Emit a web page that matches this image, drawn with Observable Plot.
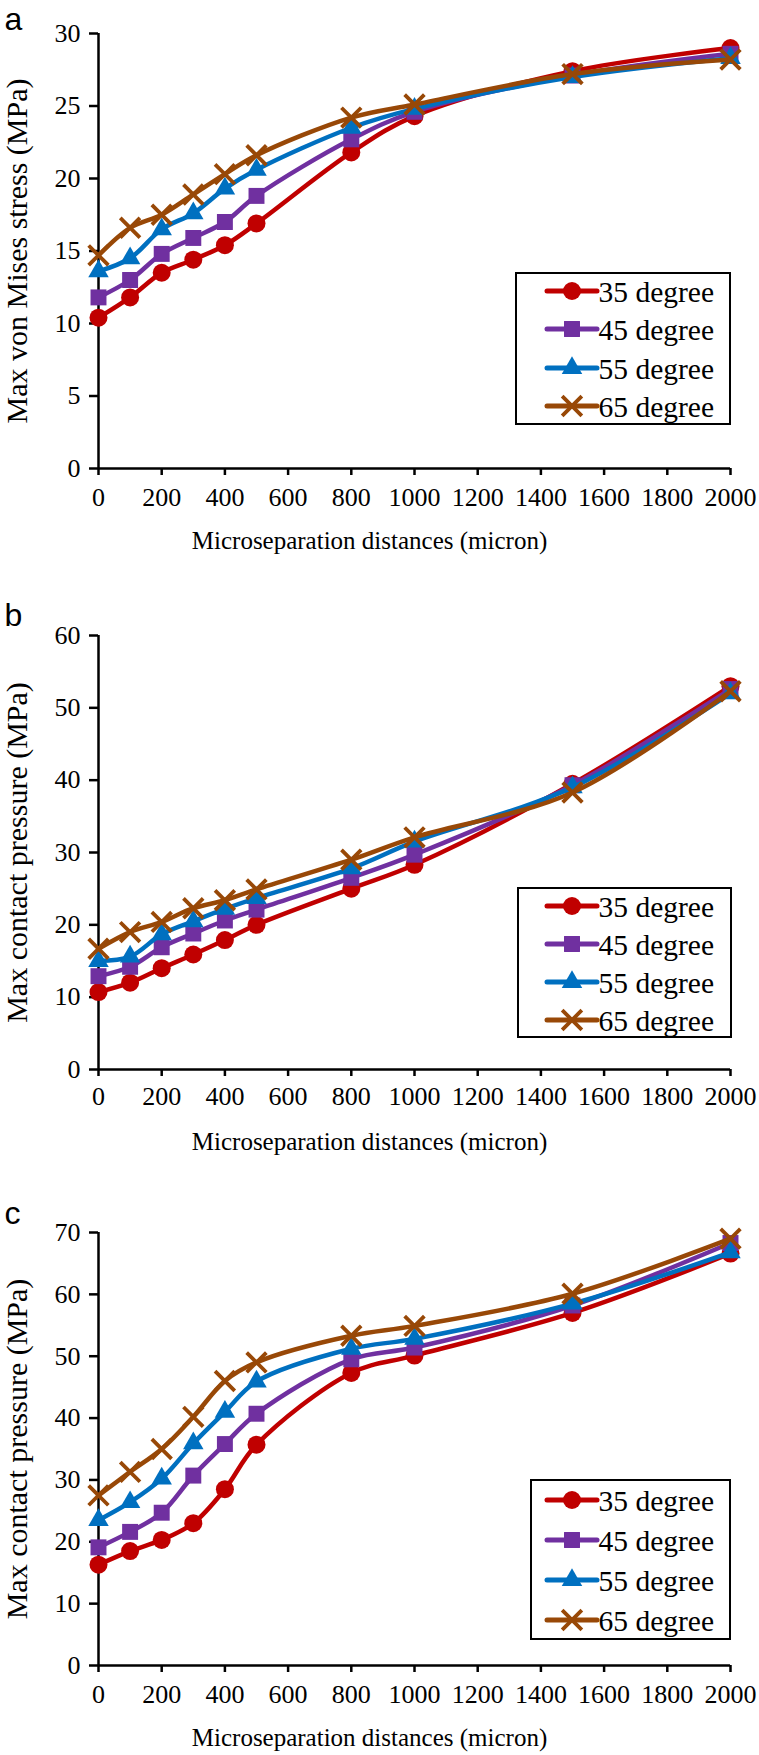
<!DOCTYPE html>
<html>
<head>
<meta charset="utf-8">
<script src="https://cdn.jsdelivr.net/npm/d3@7"></script>
<script src="https://cdn.jsdelivr.net/npm/@observablehq/plot@0.6"></script>
<style>
  body { margin: 0; background: #fff; }
  .panel { position: relative; width: 759px; }
  .legend { position: absolute; border: 2.5px solid #000; box-sizing: border-box; background: #fff;
            font-family: "Liberation Serif", "Times New Roman", serif; font-size: 29.5px; color: #000; }
</style>
</head>
<body>
<div id="chart"></div>
<script>
// ---- data ----
const distances = [0, 100, 200, 300, 400, 500, 800, 1000, 1500, 2000];
const xTicks = [0, 200, 400, 600, 800, 1000, 1200, 1400, 1600, 1800, 2000];
const series = ["35 degree", "45 degree", "55 degree", "65 degree"];
const colors = ["#C00000", "#7030A0", "#0070C0", "#984807"];
const symbols = ["circle", "square", "triangle", "times"];

// panel a: max von Mises stress (MPa)
const vonMises35 = [10.4, 11.8, 13.5, 14.4, 15.4, 16.9, 21.8, 24.3, 27.4, 29.0];
const vonMises45 = [11.8, 13.0, 14.8, 15.9, 17.0, 18.8, 22.7, 24.6, 27.1, 28.6];
const vonMises55 = [13.6, 14.5, 16.5, 17.6, 19.3, 20.6, 23.5, 24.8, 27.0, 28.3];
const vonMises65 = [14.7, 16.6, 17.5, 18.9, 20.3, 21.6, 24.2, 25.1, 27.2, 28.2];
const yTicksA = [0, 5, 10, 15, 20, 25, 30];

// panel b: max contact pressure (MPa)
const pressureB35 = [10.7, 12.0, 14.0, 15.9, 17.9, 20.0, 25.0, 28.3, 39.5, 53.0];
const pressureB45 = [12.9, 14.2, 16.9, 18.8, 20.6, 22.1, 26.5, 29.7, 39.3, 52.6];
const pressureB55 = [15.0, 15.6, 18.7, 20.5, 22.2, 23.7, 27.8, 31.5, 39.0, 52.0];
const pressureB65 = [16.7, 19.0, 20.4, 22.3, 23.4, 24.9, 29.0, 32.1, 38.3, 52.3];
const yTicksB = [0, 10, 20, 30, 40, 50, 60];

// panel c: max contact pressure (MPa)
const pressureC35 = [16.3, 18.5, 20.3, 23.0, 28.5, 35.7, 47.3, 50.1, 57.0, 66.6];
const pressureC45 = [19.1, 21.6, 24.7, 30.7, 35.8, 40.7, 49.5, 51.4, 58.2, 68.3];
const pressureC55 = [23.5, 26.4, 30.2, 35.9, 41.0, 45.9, 51.2, 52.8, 58.5, 66.8];
const pressureC65 = [27.5, 31.3, 35.0, 40.2, 46.0, 49.0, 53.3, 54.9, 60.1, 69.0];
const yTicksC = [0, 10, 20, 30, 40, 50, 60, 70];

const xTitle = "Microseparation distances (micron)";

// ---- layout/style ----
const serif = "'Liberation Serif', 'Times New Roman', serif";
const sans = "'Liberation Sans', Arial, sans-serif";
const dotR = [9, 9, 7.6, 9];
const letterSize = 32;

const panels = [
  { letter: "a", values: [vonMises35, vonMises45, vonMises55, vonMises65], yTicks: yTicksA,
    yLabel: "Max von Mises stress (MPa)", height: 580, marginTop: 33, marginBottom: 112,
    letterY: 29, tickPad: 12,
    legend: { left: 515, top: 272, width: 216, height: 153, pad: 30, first: 19, gap: 38.5 } },
  { letter: "b", values: [pressureB35, pressureB45, pressureB55, pressureB65], yTicks: yTicksB,
    yLabel: "Max contact pressure (MPa)", height: 595, marginTop: 55, marginBottom: 106,
    letterY: 45, tickPad: 10,
    legend: { left: 517, top: 307, width: 215, height: 151, pad: 28, first: 19, gap: 38 } },
  { letter: "c", values: [pressureC35, pressureC45, pressureC55, pressureC65], yTicks: yTicksC,
    yLabel: "Max contact pressure (MPa)", height: 580, marginTop: 57, marginBottom: 90,
    letterY: 48, tickPad: 12,
    legend: { left: 530, top: 304, width: 201, height: 161, pad: 15, first: 21, gap: 40 } }
];

function buildPlot(cfg) {
  const rows = [];
  cfg.values.forEach((vals, i) => vals.forEach((v, j) => rows.push({ x: distances[j], y: v, s: series[i] })));
  const fmt = d => String(d);
  const marks = [];
  marks.push(Plot.axisY({ ticks: cfg.yTicks, tickFormat: fmt, tickSize: 9, tickPadding: 9, strokeWidth: 2.5,
    label: null, fontSize: 26, fontFamily: serif }));
  marks.push(Plot.axisX({ ticks: xTicks, tickFormat: fmt, tickSize: 7, tickPadding: cfg.tickPad, strokeWidth: 2.5,
    label: null, fontSize: 26, fontFamily: serif }));
  marks.push(Plot.ruleX([0], { strokeWidth: 2.5, stroke: "#000" }));
  marks.push(Plot.ruleY([0], { strokeWidth: 2.5, stroke: "#000" }));
  series.forEach((s, i) => {
    const d = rows.filter(r => r.s === s);
    marks.push(Plot.line(d, { x: "x", y: "y", stroke: colors[i], strokeWidth: 4.5, curve: "catmull-rom" }));
    if (symbols[i] === "times") {
      marks.push(Plot.dot(d, { x: "x", y: "y", symbol: "times", r: dotR[i], stroke: colors[i], strokeWidth: 3.8 }));
    } else {
      marks.push(Plot.dot(d, { x: "x", y: "y", symbol: symbols[i], r: dotR[i], fill: colors[i], stroke: "none" }));
    }
  });
  marks.push(Plot.text([cfg.yLabel], { text: d => d, frameAnchor: "left", dx: -81, rotate: -90,
    fontSize: 30, fontFamily: serif, textAnchor: "middle", lineAnchor: "middle" }));
  marks.push(Plot.text([xTitle], { text: d => d, frameAnchor: "bottom", dx: -45, dy: 72,
    fontSize: 25, fontFamily: serif, textAnchor: "middle", lineAnchor: "middle" }));
  marks.push(Plot.text([cfg.letter], { text: d => d, frameAnchor: "top-left", dx: -94,
    dy: cfg.letterY - 0.32 * letterSize - cfg.marginTop, textAnchor: "start", lineAnchor: "middle",
    fontSize: letterSize, fontFamily: sans }));

  return Plot.plot({
    width: 759,
    height: cfg.height,
    marginLeft: 98,
    marginRight: 29,
    marginTop: cfg.marginTop,
    marginBottom: cfg.marginBottom,
    x: { domain: [0, 2000] },
    y: { domain: [0, d3.max(cfg.yTicks)] },
    style: { fontFamily: serif, fontSize: "25px", color: "#000", background: "#fff", overflow: "visible" },
    marks
  });
}

function buildLegend(L) {
  const box = document.createElement("div");
  box.className = "legend";
  Object.assign(box.style, { left: L.left + "px", top: L.top + "px", width: L.width + "px", height: L.height + "px" });
  const symMap = { circle: d3.symbolCircle, square: d3.symbolSquare, triangle: d3.symbolTriangle, times: d3.symbolTimes };
  series.forEach((s, i) => {
    const cy = L.first + i * L.gap;
    const row = document.createElement("div");
    row.style.cssText = `position:absolute;left:${L.pad - 2.5}px;top:${cy - 20 - 2.5}px;height:40px;display:flex;align-items:center;white-space:nowrap;`;
    const path = d3.symbol(symMap[symbols[i]], Math.PI * dotR[i] * dotR[i])();
    const filled = symbols[i] !== "times";
    const markerAttr = filled ? `fill="${colors[i]}"` : `fill="none" stroke="${colors[i]}" stroke-width="3.8"`;
    row.innerHTML = `<svg width="54" height="40" viewBox="-27 -20 54 40" style="overflow:visible;display:block">` +
      `<line x1="-25" x2="25" y1="0" y2="0" stroke="${colors[i]}" stroke-width="5" stroke-linecap="round"/>` +
      `<path d="${path}" ${markerAttr}/></svg>` +
      `<span style="margin-left:0px;line-height:40px;position:relative;top:1px">${s}</span>`;
    box.appendChild(row);
  });
  return box;
}

const root = document.getElementById("chart");
panels.forEach(cfg => {
  const wrap = document.createElement("div");
  wrap.className = "panel";
  wrap.style.height = cfg.height + "px";
  wrap.appendChild(buildPlot(cfg));
  wrap.appendChild(buildLegend(cfg.legend));
  root.appendChild(wrap);
});
</script>
</body>
</html>
